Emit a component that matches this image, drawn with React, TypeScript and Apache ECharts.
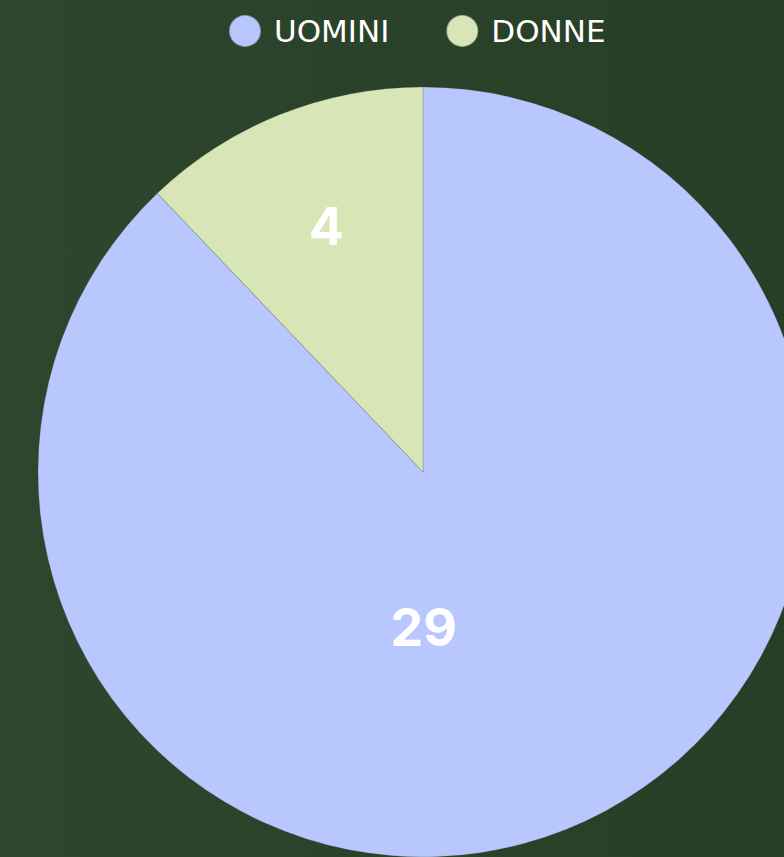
import React, { useEffect, useRef } from "react";
import * as echarts from "echarts";

const categories = ["UOMINI", "DONNE"];
const values = [29, 4];
const colors = ["#b8c8fe", "#d8e6b7"];
const labelShift = [
  [-72, -26],
  [-24, -64],
];

export default function App() {
  const ref = useRef<HTMLDivElement>(null);
  useEffect(() => {
    if (!ref.current) return;
    const chart = echarts.init(ref.current, null, { renderer: "svg" });
    chart.setOption({
      animation: false,
      backgroundColor: new echarts.graphic.LinearGradient(0, 0, 1, 0, [
        { offset: 0, color: "#2d462d" },
        { offset: 1, color: "#273e27" },
      ]),
      legend: {
        top: 14,
        left: 228,
        padding: 0,
        icon: "circle",
        itemWidth: 32,
        itemHeight: 32,
        itemGap: 56,
        data: categories,
        textStyle: {
          color: "#ffffff",
          fontSize: 31,
          fontFamily: "DejaVu Sans",
          fontWeight: "normal",
          padding: [0, 0, 0, 8],
        },
      },
      series: [
        {
          type: "pie",
          center: [423, 472],
          radius: [0, 385],
          startAngle: 90,
          clockwise: true,
          itemStyle: { borderColor: "rgba(60,70,60,0.35)", borderWidth: 0.6 },
          label: {
            show: true,
            position: "inner",
            color: "#ffffff",
            fontSize: 52,
            fontWeight: "bold",
            fontFamily: "Inter",
            formatter: "{c}",
          },
          labelLine: { show: false },
          labelLayout: (p: any) => ({
            dx: labelShift[p.dataIndex][0],
            dy: labelShift[p.dataIndex][1],
          }),
          emphasis: { disabled: true },
          data: categories.map((name, i) => ({
            name,
            value: values[i],
            itemStyle: { color: colors[i] },
          })),
        },
      ],
    });
    return () => chart.dispose();
  }, []);
  return (
    <div
      ref={ref}
      style={{ position: "fixed", left: 0, top: 0, width: 784, height: 857 }}
    />
  );
}
